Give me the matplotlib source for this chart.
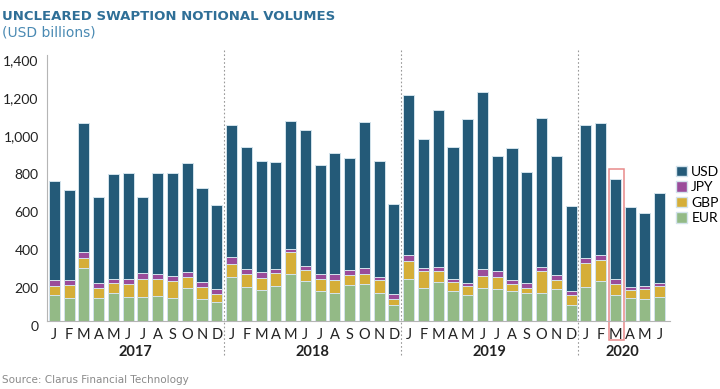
import matplotlib.pyplot as plt
import matplotlib.transforms as mtransforms
from matplotlib.patches import Rectangle, Patch
import numpy as np

# monthly notional, USD billions (Jan 2017 - Jun 2020)
months = ['J', 'F', 'M', 'A', 'M', 'J', 'J', 'A', 'S', 'O', 'N', 'D'] * 3 + ['J', 'F', 'M', 'A', 'M', 'J']
years = ['2017', '2018', '2019', '2020']

eur = [138, 119, 280, 119, 145, 128, 124, 131, 123, 175, 114, 102,
       233, 177, 165, 182, 250, 212, 159, 149, 187, 193, 149, 82,
       222, 175, 203, 156, 137, 175, 170, 158, 145, 145, 168, 84,
       177, 210, 137, 119, 114, 126]
gbp = [47, 70, 54, 56, 53, 65, 98, 88, 85, 56, 63, 42,
       68, 71, 63, 70, 112, 58, 60, 66, 56, 57, 68, 35,
       93, 86, 60, 47, 47, 60, 61, 35, 30, 116, 49, 53,
       126, 110, 59, 46, 56, 58]
jpy = [30, 26, 30, 23, 21, 26, 32, 28, 28, 28, 30, 24,
       35, 25, 29, 23, 18, 21, 31, 35, 25, 27, 16, 27,
       33, 16, 19, 19, 14, 40, 30, 22, 23, 21, 23, 19,
       31, 28, 23, 12, 14, 14]
usd = [522, 473, 677, 455, 556, 560, 399, 532, 543, 574, 493, 443,
       698, 642, 585, 563, 672, 715, 573, 634, 591, 768, 609, 472,
       842, 682, 826, 692, 864, 929, 605, 697, 584, 787, 628, 451,
       700, 695, 530, 425, 385, 478]

c_usd = '#245a78'
c_jpy = '#9a4c9a'
c_gbp = '#d5ae38'
c_eur = '#93ba86'
edge = '#d3e3ec'
lab_font = ['Lato', 'DejaVu Sans']

fig = plt.figure(figsize=(7.2, 3.89), dpi=100)
ax = fig.add_axes([47 / 720, 68 / 389, 623 / 720, 266 / 389])

x = np.arange(len(eur))
eur_a = np.array(eur)
gbp_a = np.array(gbp)
jpy_a = np.array(jpy)
usd_a = np.array(usd)

w = 0.75
ax.bar(x, eur_a, w, color=c_eur, edgecolor=edge, linewidth=0.7)
ax.bar(x, gbp_a, w, bottom=eur_a, color=c_gbp, edgecolor=edge, linewidth=0.7)
ax.bar(x, jpy_a, w, bottom=eur_a + gbp_a, color=c_jpy, edgecolor=edge, linewidth=0.7)
ax.bar(x, usd_a, w, bottom=eur_a + gbp_a + jpy_a, color=c_usd, edgecolor=edge, linewidth=0.7)

ax.set_xlim(-0.5, 41.7)
ax.set_ylim(0, 1400)

for s in ['top', 'right']:
    ax.spines[s].set_visible(False)
ax.spines['left'].set_color('#b5b5b5')
ax.spines['bottom'].set_color('#b5b5b5')

ax.set_yticks(range(0, 1401, 200))
ax.set_yticklabels([f'{v:,}' for v in range(0, 1401, 200)], family=lab_font)
ax.tick_params(axis='y', length=0, pad=6, labelsize=10, labelcolor='#222222')
shift = mtransforms.ScaledTranslation(0, -5 / 100, fig.dpi_scale_trans)
for lbl in ax.get_yticklabels():
    lbl.set_transform(lbl.get_transform() + shift)

ax.set_xticks(x)
ax.set_xticklabels(months, family=lab_font)
ax.tick_params(axis='x', length=0, pad=5, labelsize=10.5, labelcolor='#222222')

# year separators and year labels
trans = mtransforms.blended_transform_factory(ax.transData, ax.transAxes)
for b in [11.5, 23.5, 35.5]:
    ax.plot([b, b], [1.02, -0.135], transform=trans, color='#999999',
            linestyle=(0, (1.5, 2)), linewidth=0.8, clip_on=False)
year_centers = [5.5, 17.5, 29.5, 38.5]
for yc, yr in zip(year_centers, years):
    ax.text(yc, -0.115, yr, transform=trans, ha='center', va='center',
            fontsize=10.5, fontweight='bold', color='#222222', family=lab_font)

# highlight March 2020
ax.add_patch(Rectangle((37.55, -0.073), 1.05, 0.57 + 0.073, transform=trans,
                       fill=False, edgecolor='#e88a8a', linewidth=1.1, clip_on=False))

handles = [Patch(facecolor=c_usd, edgecolor=edge, label='USD'),
           Patch(facecolor=c_jpy, edgecolor=edge, label='JPY'),
           Patch(facecolor=c_gbp, edgecolor=edge, label='GBP'),
           Patch(facecolor=c_eur, edgecolor=edge, label='EUR')]
fig.legend(handles=handles, loc='center left', bbox_to_anchor=(676 / 720, 1 - 195 / 389),
           frameon=False, prop={'family': lab_font, 'size': 10}, handlelength=0.8,
           handleheight=0.8, handletextpad=0.3, labelspacing=0.25, borderpad=0,
           borderaxespad=0)

fig.text(2 / 720, 1 - 17 / 389, 'UNCLEARED SWAPTION NOTIONAL VOLUMES', fontsize=9.5,
         fontweight='bold', color='#2f6f97', va='center', ha='left')
fig.text(2 / 720, 1 - 33 / 389, '(USD billions)', fontsize=10, color='#4a8ab3',
         va='center', ha='left')
fig.text(2 / 720, 1 - 380 / 389, 'Source: Clarus Financial Technology', fontsize=7.5,
         color='#8a8a8a', va='center', ha='left')

fig.savefig('out.png', dpi=100)
